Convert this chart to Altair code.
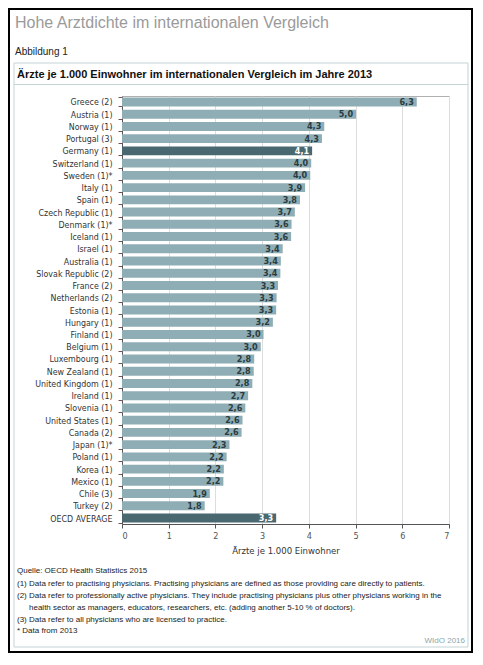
import altair as alt
import pandas as pd

countries = ["Greece (2)", "Austria (1)", "Norway (1)", "Portugal (3)", "Germany (1)",
             "Switzerland (1)", "Sweden (1)*", "Italy (1)", "Spain (1)", "Czech Republic (1)",
             "Denmark (1)*", "Iceland (1)", "Israel (1)", "Australia (1)", "Slovak Republic (2)",
             "France (2)", "Netherlands (2)", "Estonia (1)", "Hungary (1)", "Finland (1)",
             "Belgium (1)", "Luxembourg (1)", "New Zealand (1)", "United Kingdom (1)", "Ireland (1)",
             "Slovenia (1)", "United States (1)", "Canada (2)", "Japan (1)*", "Poland (1)",
             "Korea (1)", "Mexico (1)", "Chile (3)", "Turkey (2)", "OECD AVERAGE"]
values = [6.31, 5.01, 4.33, 4.28, 4.07, 4.05, 4.03, 3.92, 3.81, 3.70,
          3.63, 3.62, 3.44, 3.40, 3.39, 3.34, 3.31, 3.30, 3.23, 3.03,
          2.97, 2.83, 2.82, 2.79, 2.70, 2.64, 2.58, 2.56, 2.30, 2.24,
          2.18, 2.17, 1.88, 1.77, 3.30]
highlighted = ["Germany (1)", "OECD AVERAGE"]
x_ticks = [0, 1, 2, 3, 4, 5, 6, 7]

page_title = "Hohe Arztdichte im internationalen Vergleich"
figure_label = "Abbildung 1"
box_title = "Ärzte je 1.000 Einwohner im internationalen Vergleich im Jahre 2013"
x_title = "Ärzte je 1.000 Einwohner"
footnotes = [
    "Quelle: OECD Health Statistics 2015",
    "(1) Data refer to practising physicians. Practising physicians are defined as those providing care directly to patients.",
    "(2) Data refer to professionally active physicians. They include practising physicians plus other physicians working in the",
    "health sector as managers, educators, researchers, etc. (adding another 5-10 % of doctors).",
    "(3) Data refer to all physicians who are licensed to practice.",
    "* Data from 2013",
]
credit = "WIdO 2016"

NARROW = "Liberation Sans Narrow, DejaVu Sans Condensed, Arial Narrow, sans-serif"
SANS = "Liberation Sans, Arial, Helvetica, sans-serif"
BAR = "#8fadb4"
BAR_HL = "#4a6870"

df = pd.DataFrame({"country": countries, "value": values})
df["hl"] = df["country"].isin(highlighted)

W, H = 327, 428

y_enc = alt.Y(
    "country:N", sort=None,
    scale=alt.Scale(paddingInner=0.27, paddingOuter=0.12),
    axis=alt.Axis(title=None, labelFont=NARROW, labelFontSize=8.8, labelColor="#333333",
                  labelPadding=6, tickBand="extent", tickSize=4, tickColor="#7a5050",
                  domainColor="#555555", labelLimit=200),
)
x_enc = alt.X(
    "value:Q",
    scale=alt.Scale(domain=[0, 7], nice=False),
    axis=alt.Axis(values=x_ticks, title=x_title, grid=True, gridColor="#dddddd",
                  domainColor="#555555", tickColor="#555555", tickSize=4,
                  labelFont=NARROW, labelFontSize=9, labelColor="#555555", labelPadding=3,
                  titleFont=NARROW, titleFontSize=9.5, titleFontWeight="normal",
                  titleColor="#333333", titlePadding=5),
)

base = alt.Chart(df)
bars = base.mark_bar().encode(
    x=x_enc, y=y_enc,
    color=alt.condition(alt.datum.hl, alt.value(BAR_HL), alt.value(BAR)),
)
labels = base.transform_calculate(
    label="replace(format(datum.value, '.1f'), '.', ',')"
).mark_text(align="right", baseline="middle", dx=-3, font=NARROW, fontSize=9,
            fontWeight="bold").encode(
    x="value:Q", y=alt.Y("country:N", sort=None), text="label:N",
    color=alt.condition(alt.datum.hl, alt.value("white"), alt.value("#2a3c42")),
)

one = pd.DataFrame({"k": [0]})
deco = alt.Chart(one)

box = deco.mark_rect(fillOpacity=0, stroke="#c3d3d6", strokeWidth=1).encode(
    x=alt.value(-108), x2=alt.value(346), y=alt.value(-33), y2=alt.value(551))
sep = deco.mark_rule(color="#c3d3d6", strokeWidth=1).encode(
    x=alt.value(-108), x2=alt.value(346), y=alt.value(-11.5))
frame = deco.mark_rect(fillOpacity=0, stroke="black", strokeWidth=2).encode(
    x=alt.value(-113), x2=alt.value(350), y=alt.value(-87), y2=alt.value(556))

t_title = deco.mark_text(align="left", baseline="middle", font=SANS, fontSize=16,
                         color="#9a9a9a").encode(
    x=alt.value(-107), y=alt.value(-73), text=alt.value(page_title))
t_fig = deco.mark_text(align="left", baseline="middle", font=SANS, fontSize=10,
                       color="#222222").encode(
    x=alt.value(-107), y=alt.value(-44), text=alt.value(figure_label))
t_box = deco.mark_text(align="left", baseline="middle", font=SANS, fontSize=11,
                       fontWeight="bold", color="#111111").encode(
    x=alt.value(-105), y=alt.value(-21), text=alt.value(box_title))

foot_y = [475, 488, 500, 511.5, 524, 535]
foot_x = [-105, -105, -105, -93, -105, -105]
foot_layers = []
for txt, fy, fx in zip(footnotes, foot_y, foot_x):
    foot_layers.append(
        deco.mark_text(align="left", baseline="middle", font=SANS, fontSize=8,
                       color="#222222").encode(
            x=alt.value(fx), y=alt.value(fy), text=alt.value(txt)))

t_credit = deco.mark_text(align="right", baseline="middle", font=SANS, fontSize=8,
                          color="#8aa6ad").encode(
    x=alt.value(343), y=alt.value(545), text=alt.value(credit))

chart = alt.layer(
    box, sep, frame, t_title, t_fig, t_box, *foot_layers, t_credit, bars, labels
).properties(
    width=W, height=H,
    autosize=alt.AutoSizeParams(type="none"),
    padding={"left": 114, "top": 88, "right": 24, "bottom": 129},
    background="white",
).configure_view(stroke="#b0b0b0", strokeWidth=1)

chart.save("out.html", embed_options={"renderer": "svg", "actions": False})
